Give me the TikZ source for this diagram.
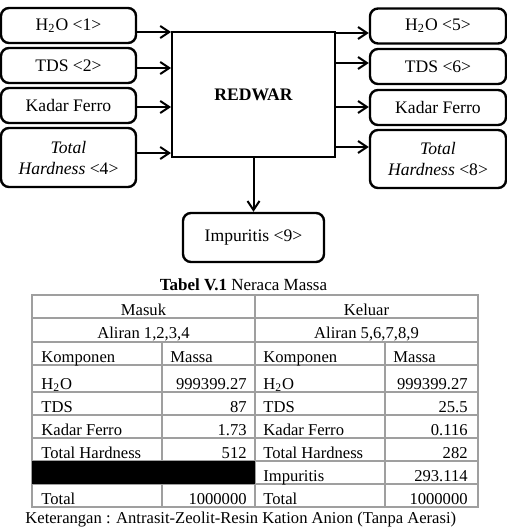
\documentclass[tikz,border=0pt]{standalone}
\usepackage{fontspec}
\setmainfont{Liberation Serif}
\usetikzlibrary{arrows.meta,positioning}

\tikzset{
  kotak/.style={draw, line width=1.2pt, rounded corners=4pt, minimum width=67.5pt,
    minimum height=17.5pt, align=center, inner sep=1pt, font=\fontsize{8.8}{10.5}\selectfont},
  proses/.style={draw, line width=1pt, minimum width=81.5pt, minimum height=62.5pt,
    font=\bfseries\fontsize{8.8}{10.5}\selectfont},
  panah/.style={-{Straight Barb[length=4.5pt,width=6pt]}, line width=1pt},
  garis/.style={draw=gray!75, line width=0.6pt},
  sel/.style={inner sep=0pt, font=\fontsize{8.3}{10}\selectfont},
}

\begin{document}
\begin{tikzpicture}[x=0.5pt, y=-0.5pt]
    \useasboundingbox (0,0) rectangle (507,530);

    % 1. Aliran masuk
    \node[kotak] (in1) at (68.5,25.5) {H\textsubscript{2}O <1>};
    \node[kotak] (in2) at (68.5,65.5) {TDS <2>};
    \node[kotak] (in3) at (68.5,105.5) {Kadar Ferro};
    \node[kotak, minimum height=29.5pt] (in4) at (68.5,157.5) {\textit{Total}\\\textit{Hardness} <4>};

    % 2. Proses
    \node[proses] (redwar) at (253.5,94.5) {REDWAR};

    % 3. Aliran keluar
    \node[kotak, minimum width=68pt] (out5) at (438,26) {H\textsubscript{2}O <5>};
    \node[kotak, minimum width=68pt] (out6) at (438,66.5) {TDS <6>};
    \node[kotak, minimum width=68pt] (out7) at (438,107.5) {Kadar Ferro};
    \node[kotak, minimum width=68pt, minimum height=29pt] (out8) at (438,159) {\textit{Total}\\\textit{Hardness} <8>};
    \node[kotak, minimum width=70.5pt, minimum height=24.5pt] (imp) at (253.5,237.5) {Impuritis <9>};

    % 4. Panah
    \foreach \a/\y in {in1/32, in2/68, in3/107, in4/153} {
        \draw[panah] (\a.east |- 0,\y) -- (redwar.west |- 0,\y);
    }
    \foreach \b/\y in {out5/33, out6/63, out7/107, out8/147} {
        \draw[panah] (redwar.east |- 0,\y) -- (\b.west |- 0,\y);
    }
    \draw[panah] (redwar.south) -- (redwar.south |- imp.north);

    % 5. Tabel neraca massa
    \node[font=\fontsize{8.5}{10}\selectfont, inner sep=0pt, anchor=base] (judul) at (243.5,290)
        {\textbf{Tabel V.1} Neraca Massa};
    \draw[garis] (32,295) rectangle (478,507);
    \foreach \y in {318,342,365,392,415,438,461,484} {
        \draw[garis] (32,\y) -- (478,\y);
    }
    \draw[garis] (255,295) -- (255,507);
    \draw[garis] (162,342) -- (162,507);
    \draw[garis] (385,342) -- (385,507);
    \fill (32,461) rectangle (255,484);

    \node[sel, anchor=base] (masuk) at (143.5,315) {Masuk};
    \node[sel, anchor=base] (keluar) at (366.5,315) {Keluar};
    \node[sel, anchor=base] (alin) at (143.5,338.5) {Aliran 1,2,3,4};
    \node[sel, anchor=base] (alout) at (366.5,338.5) {Aliran 5,6,7,8,9};
    \node[sel, anchor=base west] (kom1) at (41,362) {Komponen};
    \node[sel, anchor=base west] (mas1) at (170,362) {Massa};
    \node[sel, anchor=base west] (kom2) at (263,362) {Komponen};
    \node[sel, anchor=base west] (mas2) at (393,362) {Massa};

    \foreach \y/\ka/\ma/\kb/\mb [count=\i] in {
        389/{H\textsubscript{2}O}/999399.27/{H\textsubscript{2}O}/999399.27,
        412/TDS/87/TDS/25.5,
        435/Kadar Ferro/1.73/Kadar Ferro/0.116,
        458/Total Hardness/512/Total Hardness/282,
        504.5/Total/1000000/Total/1000000} {
        \node[sel, anchor=base west] (ka\i) at (41,\y) {\ka};
        \node[sel, anchor=base east] (ma\i) at (247,\y) {\ma};
        \node[sel, anchor=base west] (kb\i) at (263,\y) {\kb};
        \node[sel, anchor=base east] (mb\i) at (468,\y) {\mb};
    }
    \node[sel, anchor=base west] (kimp) at (263,481) {Impuritis};
    \node[sel, anchor=base east] (mimp) at (468,481) {293.114};

    % 6. Keterangan
    \node[sel, anchor=base west] (ket) at (25,523)
        {Keterangan : Antrasit-Zeolit-Resin Kation Anion (Tanpa Aerasi)};
\end{tikzpicture}
\end{document}
